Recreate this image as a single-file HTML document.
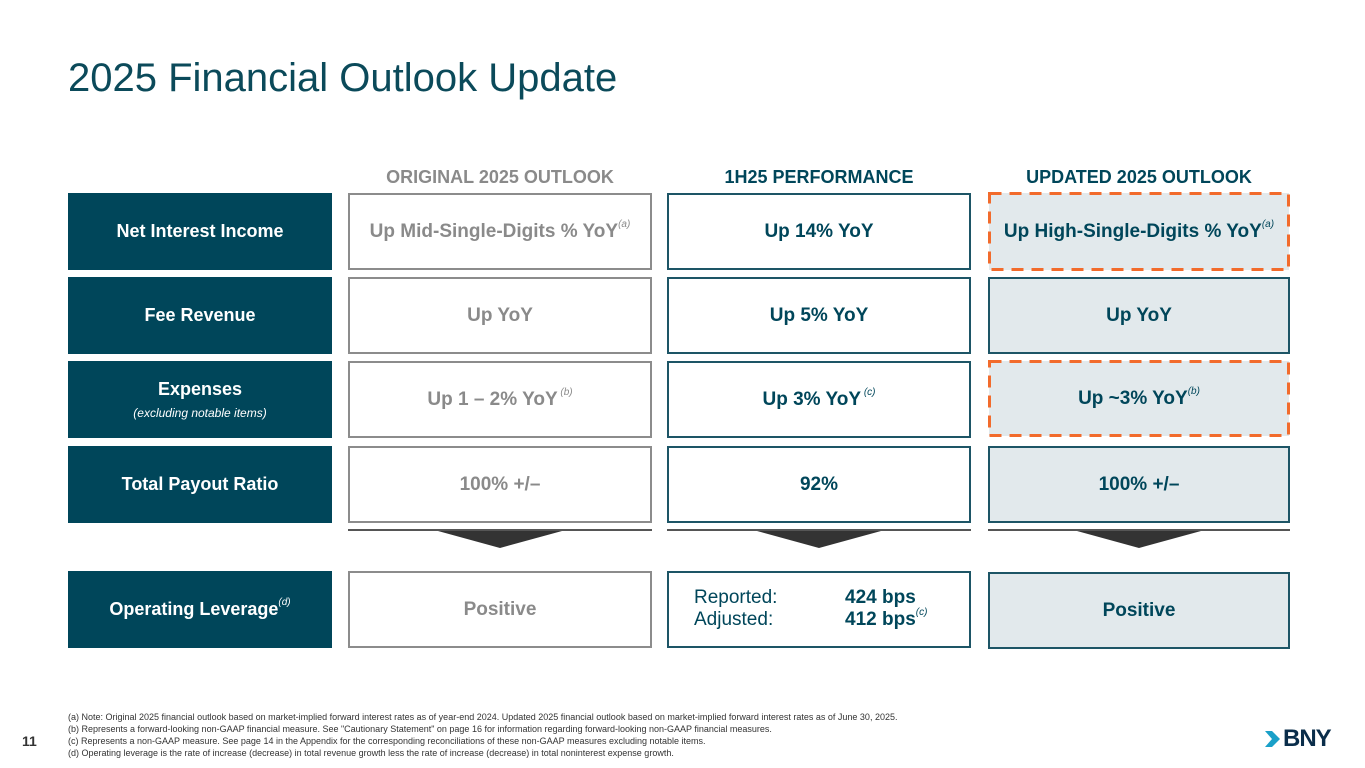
<!DOCTYPE html>
<html><head><meta charset="utf-8">
<style>
body{margin:0;width:1365px;height:768px;background:#fff;position:relative;overflow:hidden;font-family:"Liberation Sans",sans-serif;}
.a{position:absolute;box-sizing:border-box;display:flex;align-items:center;justify-content:center;text-align:center;}
.lbl{background:#00465a;color:#fff;font-weight:bold;font-size:18px;flex-direction:column;}
.c2{border:2px solid #8c8c8c;color:#8a8a8a;font-weight:bold;font-size:19px;}
.c3{border:2px solid #1d5566;color:#00465a;font-weight:bold;font-size:19px;}
.c4{border:2px solid #1d5566;background:#e2e9ec;color:#00465a;font-weight:bold;font-size:19px;}
.hd{position:absolute;font-weight:bold;font-size:18px;text-align:center;width:320px;}
sup{font-size:10px;font-weight:normal;font-style:italic;vertical-align:baseline;position:relative;top:-10px;line-height:0;}
.dash{position:absolute;}
.sep{position:absolute;height:2px;background:#555;}
.tri{position:absolute;width:0;height:0;border-left:62px solid transparent;border-right:62px solid transparent;border-top:17px solid #333;}
.fn{position:absolute;left:68px;font-size:9px;color:#333;line-height:12px;top:711px;white-space:nowrap;}
</style></head><body>
<div style="position:absolute;left:68px;top:56px;font-size:40px;color:#0b4a5a;">2025 Financial Outlook Update</div>

<div class="hd" style="left:340px;top:167px;color:#8a8a8a;">ORIGINAL 2025 OUTLOOK</div>
<div class="hd" style="left:659px;top:167px;color:#00465a;">1H25 PERFORMANCE</div>
<div class="hd" style="left:979px;top:167px;color:#00465a;">UPDATED 2025 OUTLOOK</div>

<div class="a lbl" style="left:68px;top:193px;width:264px;height:77px;">Net Interest Income</div>
<div class="a lbl" style="left:68px;top:277px;width:264px;height:77px;">Fee Revenue</div>
<div class="a lbl" style="left:68px;top:361px;width:264px;height:77px;"><div>Expenses</div><div style="font-weight:normal;font-style:italic;font-size:12px;margin-top:6px;">(excluding notable items)</div></div>
<div class="a lbl" style="left:68px;top:446px;width:264px;height:77px;">Total Payout Ratio</div>
<div class="a lbl" style="left:68px;top:571px;width:264px;height:77px;"><span>Operating Leverage<sup>(d)</sup></span></div>

<div class="a c2" style="left:348px;top:193px;width:304px;height:77px;"><span>Up Mid-Single-Digits % YoY<sup>(a)</sup></span></div>
<div class="a c2" style="left:348px;top:277px;width:304px;height:77px;">Up YoY</div>
<div class="a c2" style="left:348px;top:361px;width:304px;height:77px;"><span>Up 1 – 2% YoY<sup> (b)</sup></span></div>
<div class="a c2" style="left:348px;top:446px;width:304px;height:77px;">100% +/–</div>
<div class="a c2" style="left:348px;top:571px;width:304px;height:77px;">Positive</div>

<div class="a c3" style="left:667px;top:193px;width:304px;height:77px;">Up 14% YoY</div>
<div class="a c3" style="left:667px;top:277px;width:304px;height:77px;">Up 5% YoY</div>
<div class="a c3" style="left:667px;top:361px;width:304px;height:77px;"><span>Up 3% YoY<sup> (c)</sup></span></div>
<div class="a c3" style="left:667px;top:446px;width:304px;height:77px;">92%</div>
<div class="a c3" style="left:667px;top:571px;width:304px;height:77px;display:block;">
<div style="position:absolute;left:25px;top:14px;text-align:left;font-weight:normal;font-size:19px;line-height:22px;">Reported:<br>Adjusted:</div>
<div style="position:absolute;left:176px;top:14px;text-align:left;font-size:19px;line-height:22px;">424 bps<br>412 bps<sup>(c)</sup></div>
</div>

<div class="a c4" style="left:989px;top:193px;width:300px;height:77px;border-color:transparent;"><span>Up High-Single-Digits % YoY<sup>(a)</sup></span></div>
<svg class="dash" style="left:988px;top:192px;" width="303" height="79"><rect x="1.5" y="1.5" width="299" height="76" fill="none" stroke="#f26b2c" stroke-width="3" stroke-dasharray="12 8"/></svg>
<div class="a c4" style="left:988px;top:277px;width:302px;height:77px;">Up YoY</div>
<div class="a c4" style="left:989px;top:361px;width:300px;height:75px;border-color:transparent;"><span>Up ~3% YoY<sup>(b)</sup></span></div>
<svg class="dash" style="left:988px;top:360px;" width="303" height="77"><rect x="1.5" y="1.5" width="299" height="74" fill="none" stroke="#f26b2c" stroke-width="3" stroke-dasharray="12 8"/></svg>
<div class="a c4" style="left:988px;top:446px;width:302px;height:77px;">100% +/–</div>
<div class="a c4" style="left:988px;top:572px;width:302px;height:77px;">Positive</div>

<div class="sep" style="left:348px;top:529px;width:304px;"></div>
<div class="tri" style="left:438px;top:531px;"></div>
<div class="sep" style="left:667px;top:529px;width:304px;"></div>
<div class="tri" style="left:757px;top:531px;"></div>
<div class="sep" style="left:988px;top:529px;width:302px;"></div>
<div class="tri" style="left:1077px;top:531px;"></div>

<div style="position:absolute;left:22px;top:733px;font-size:14px;font-weight:bold;color:#333;">11</div>
<div class="fn">
(a) Note: Original 2025 financial outlook based on market-implied forward interest rates as of year-end 2024. Updated 2025 financial outlook based on market-implied forward interest rates as of June 30, 2025.<br>
(b) Represents a forward-looking non-GAAP financial measure. See "Cautionary Statement" on page 16 for information regarding forward-looking non-GAAP financial measures.<br>
(c) Represents a non-GAAP measure. See page 14 in the Appendix for the corresponding reconciliations of these non-GAAP measures excluding notable items.<br>
(d) Operating leverage is the rate of increase (decrease) in total revenue growth less the rate of increase (decrease) in total noninterest expense growth.
</div>
<div style="position:absolute;left:1264px;top:725px;display:flex;align-items:center;">
<svg width="18" height="20" viewBox="0 0 18 20"><polygon points="1,2 8,2 16,10 8,18 1,18 8,10" fill="#1aa0c8"/></svg>
<span style="font-weight:bold;font-size:24px;color:#0a2d4a;letter-spacing:-1px;margin-left:1px;">BNY</span>
</div>
</body></html>
